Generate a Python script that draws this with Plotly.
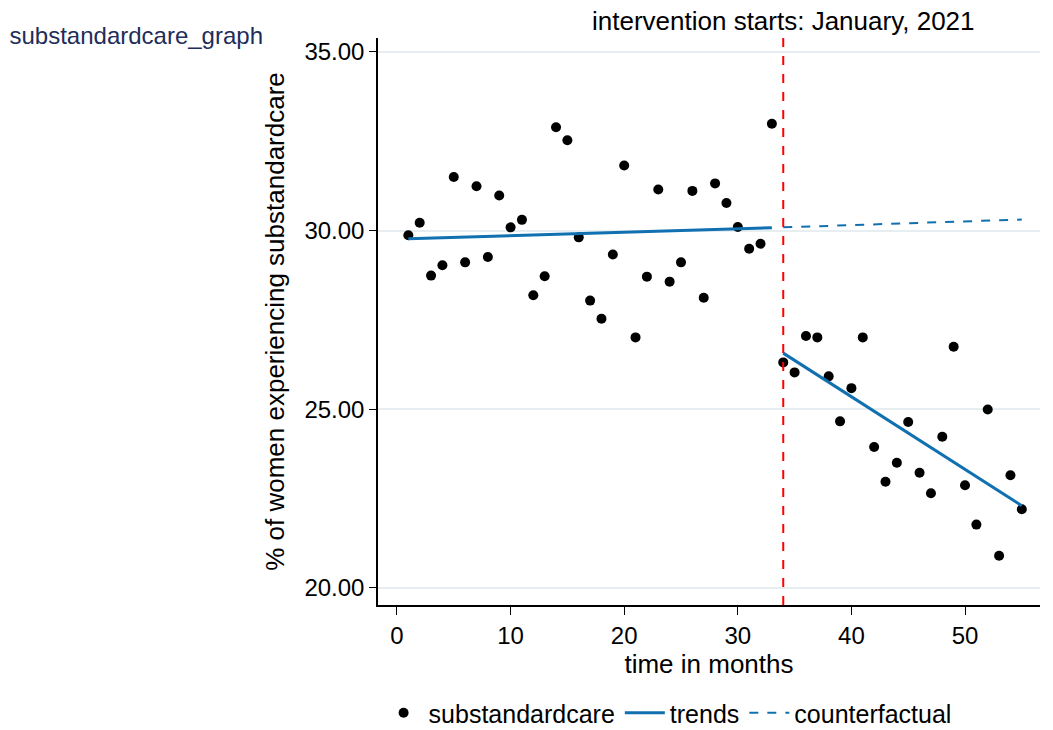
import plotly.graph_objects as go

# Data
months = list(range(1, 56))
substandardcare = [
    29.87, 30.22, 28.74, 29.03, 31.50, 29.11, 31.24, 29.26, 30.98, 30.09,
    30.30, 28.19, 28.72, 32.89, 32.53, 29.81, 28.04, 27.53, 29.33, 31.82,
    27.01, 28.71, 31.15, 28.57, 29.11, 31.11, 28.12, 31.32, 30.77, 30.10,
    29.49, 29.63, 32.99, 26.31, 26.03, 27.05, 27.01, 25.92, 24.66, 25.59,
    27.01, 23.94, 22.97, 23.50, 24.64, 23.22, 22.65, 24.23, 26.75, 22.87,
    21.77, 24.99, 20.90, 23.15, 22.20,
]
pre_trend_x = [1, 33]
pre_trend_y = [29.77, 30.08]
post_trend_x = [34, 55]
post_trend_y = [26.57, 22.30]
counterfactual_x = [34, 55]
counterfactual_y = [30.09, 30.31]
intervention_month = 34
y_ticks = [20, 25, 30, 35]
x_ticks = [0, 10, 20, 30, 40, 50]

FONT = "Liberation Sans, Arial, sans-serif"
BLUE = "#1170b0"
FS = 24

fig = go.Figure()
fig.add_trace(go.Scatter(
    x=months, y=substandardcare, mode="markers", name="substandardcare",
    marker=dict(color="black", size=10),
))
fig.add_trace(go.Scatter(
    x=pre_trend_x, y=pre_trend_y, mode="lines", name="trends",
    line=dict(color=BLUE, width=3), legendgroup="trends",
))
fig.add_trace(go.Scatter(
    x=post_trend_x, y=post_trend_y, mode="lines", name="trends",
    line=dict(color=BLUE, width=3), legendgroup="trends", showlegend=False,
))
fig.add_trace(go.Scatter(
    x=counterfactual_x, y=counterfactual_y, mode="lines", name="counterfactual",
    line=dict(color=BLUE, width=2, dash="dash"),
))

fig.add_shape(type="line", xref="x", yref="paper",
              x0=intervention_month, x1=intervention_month, y0=0, y1=1,
              line=dict(color="red", width=2, dash="dash"))

fig.add_annotation(x=intervention_month, xref="x", y=1, yref="paper",
                   yanchor="bottom", xanchor="center", yshift=0,
                   text="intervention starts: January, 2021", showarrow=False,
                   font=dict(size=26, color="black", family=FONT))

fig.update_layout(
    width=1053, height=730,
    margin=dict(l=378, r=13, t=38, b=125, autoexpand=False),
    paper_bgcolor="white", plot_bgcolor="white",
    font=dict(family=FONT, size=FS, color="black"),
    title=dict(text="substandardcare_graph", x=0.009, xanchor="left",
               xref="container", y=0.963, yanchor="top", yref="container",
               font=dict(size=FS, color="#1e2d5a", family=FONT)),
    showlegend=True,
    legend=dict(orientation="h", x=0.634, xanchor="center", xref="container",
                y=-0.15, yanchor="top", yref="paper",
                font=dict(size=25, family=FONT), tracegroupgap=0,
                itemwidth=40),
)

fig.update_xaxes(
    range=[-1.67, 56.6], tickvals=x_ticks, ticks="outside", ticklen=8,
    tickcolor="black", showline=True, linecolor="black", linewidth=1.5,
    showgrid=False, zeroline=False,
    title=dict(text="time in months", standoff=4, font=dict(size=26)),
    tickfont=dict(size=FS), automargin=False,
)
fig.update_yaxes(
    range=[19.52, 35.39], tickvals=y_ticks, tickformat=".2f", ticks="outside",
    ticklen=7, tickcolor="black", showline=True, linecolor="black", linewidth=1.5,
    showgrid=True, gridcolor="#e6eef2", gridwidth=1.5, zeroline=False,
    title=dict(text="% of women experiencing substandardcare", standoff=12,
               font=dict(size=26)),
    tickfont=dict(size=FS), automargin=False,
)

fig.write_html("out.html")
